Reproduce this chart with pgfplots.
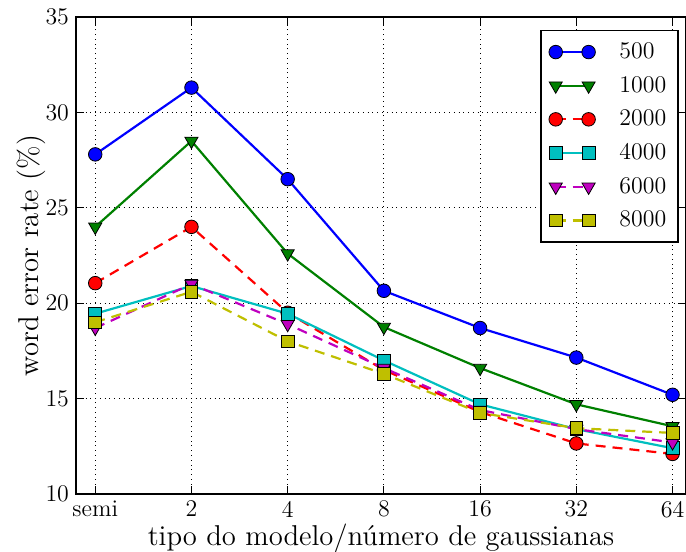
\documentclass[border=0pt]{standalone}
\usepackage{pgfplots}
\pgfplotsset{compat=1.18}
\definecolor{mblue}{rgb}{0,0,1}
\definecolor{mgreen}{rgb}{0,0.5,0}
\definecolor{mred}{rgb}{1,0,0}
\definecolor{mcyan}{rgb}{0,0.75,0.75}
\definecolor{mmag}{rgb}{0.75,0,0.75}
\definecolor{myel}{rgb}{0.75,0.75,0}
\begin{document}
\begin{tikzpicture}
\begin{axis}[
    scale only axis,
    width=305bp, height=238.5bp,
    xmin=-0.2, xmax=6.14,
    ymin=10, ymax=35,
    xtick={0,1,2,3,4,5,6},
    xticklabels={semi,2,4,8,16,32,64},
    ytick={10,15,20,25,30,35},
    tick label style={font=\large},
    label style={font=\Large},
    xlabel={tipo do modelo/número de gaussianas},
    ylabel={word error rate (\%)},
    xlabel style={yshift=3.5bp},
    ylabel style={yshift=-7bp},
    grid=major,
    major grid style={black, dotted, line width=0.5pt},
    axis line style={line width=0.8pt},
    tick style={black, line width=0.5pt},
    major tick length=4bp,
    every axis plot/.append style={line width=1.1pt},
    legend style={at={(0.9885,0.973)}, anchor=north east, font=\large,
        draw=black, line width=0.8pt, row sep=3.4pt, inner xsep=4pt, inner ysep=4pt},
    legend cell align=left,
    /tikz/every odd column/.append style={column sep=10bp},
    legend image code/.code={\draw[#1] plot coordinates {(0cm,0cm) (0.58cm,0cm)};},
]
\addplot[color=mblue, mark=*, mark size=3.4pt, mark options={solid, draw=black, line width=0.4pt, fill=mblue}] coordinates {
    (0,27.8) (1,31.3) (2,26.5) (3,20.65) (4,18.7) (5,17.15) (6,15.2)};
\addplot[color=mgreen, mark=triangle*, mark size=3.8pt, mark options={solid, draw=black, line width=0.4pt, fill=mgreen, rotate=180}] coordinates {
    (0,24.0) (1,28.5) (2,22.6) (3,18.75) (4,16.6) (5,14.7) (6,13.55)};
\addplot[color=mred, dash pattern=on 5bp off 3.5bp, mark=*, mark size=3.4pt, mark options={solid, draw=black, line width=0.4pt, fill=mred}] coordinates {
    (0,21.05) (1,24.0) (2,19.5) (3,16.5) (4,14.3) (5,12.65) (6,12.1)};
\addplot[color=mcyan, mark=square*, mark size=3.2pt, mark options={solid, draw=black, line width=0.4pt, fill=mcyan}] coordinates {
    (0,19.45) (1,20.9) (2,19.45) (3,17.0) (4,14.7) (5,13.4) (6,12.4)};
\addplot[color=mmag, dash pattern=on 5bp off 3.5bp, mark=triangle*, mark size=3.8pt, mark options={solid, draw=black, line width=0.4pt, fill=mmag, rotate=180}] coordinates {
    (0,18.7) (1,21.0) (2,18.9) (3,16.6) (4,14.4) (5,13.4) (6,12.7)};
\addplot[color=myel, dash pattern=on 5bp off 3.5bp, mark=square*, mark size=3.2pt, mark options={solid, draw=black, line width=0.4pt, fill=myel}] coordinates {
    (0,19.0) (1,20.6) (2,18.0) (3,16.3) (4,14.25) (5,13.45) (6,13.2)};
\legend{500,1000,2000,4000,6000,8000}
\end{axis}
\pgfresetboundingbox
\path ([xshift=-38bp, yshift=-29bp]current axis.south west) rectangle ([yshift=8.5bp]current axis.north east);
\end{tikzpicture}
\end{document}
